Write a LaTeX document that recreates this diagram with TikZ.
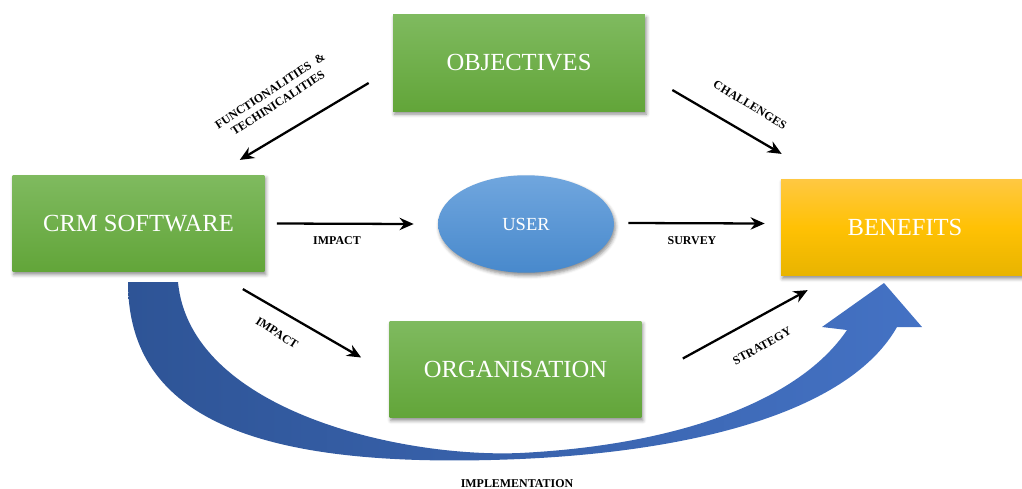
\documentclass[tikz,border=0pt]{standalone}
\usepackage{fontspec}
\setmainfont{Liberation Serif}
\usetikzlibrary{positioning}
\usetikzlibrary{shapes.geometric}
\usetikzlibrary{arrows.meta}
\usetikzlibrary{shadows.blur}

\definecolor{greentop}{RGB}{127,186,95}
\definecolor{greenbot}{RGB}{98,165,57}
\definecolor{goldtop}{RGB}{255,200,66}
\definecolor{goldmid}{RGB}{255,193,4}
\definecolor{goldbot}{RGB}{232,180,0}
\definecolor{usertop}{RGB}{112,166,222}
\definecolor{userbot}{RGB}{72,137,204}
\definecolor{impldark}{RGB}{46,84,150}
\definecolor{impllight}{RGB}{68,114,196}

\tikzset{
	block/.style={rectangle, minimum width=5.04cm, minimum height=1.93cm,
		top color=greentop, bottom color=greenbot, text=white,
		font=\fontsize{14}{16}\selectfont,
		blur shadow={shadow xshift=0.8pt, shadow yshift=-1.6pt, shadow blur radius=2pt, shadow opacity=45}},
	conn/.style={line width=1.3pt, -{Stealth[length=8pt,width=7pt]}},
	lbl/.style={font=\fontsize{6.8}{8.2}\selectfont\bfseries, inner sep=1pt, align=center},
}

\begin{document}
\begin{tikzpicture}[x=0.02cm,y=-0.02cm]%pixel grid, y runs down
	\useasboundingbox (0,0) rectangle (1022,488);

	\node[block] (obj) at (519,63) {OBJECTIVES};
	\node[block] (crm) at (138.5,223.5) {CRM SOFTWARE};
	\node[block, minimum width=4.96cm, top color=goldtop, bottom color=goldbot, middle color=goldmid] (ben) at (905,227.5) {BENEFITS};
	\node[block, ellipse, inner sep=0pt, minimum width=3.52cm, minimum height=1.95cm,
		top color=usertop, bottom color=userbot, font=\fontsize{10.5}{12}\selectfont] (user) at (526,224) {USER};
	\node[block] (org) at (515.5,369.5) {ORGANISATION};

	% implementation arrow, crm -> benefits
	\shade[left color=impldark, right color=impllight]
		(128,282) .. controls (128,420) and (260,470) .. (520,459)
		.. controls (700,451) and (850,410) .. (897,327)
		-- (922,327) -- (884,283) -- (822,327) -- (847,330)
		.. controls (800,400) and (680,445) .. (520,453)
		.. controls (400,458) and (190,410) .. (178,282) -- cycle;

	\draw[conn] ([shift={(-24,20)}]obj.west) -- ([shift={(-25,-15)}]crm.north east);
	\draw[conn] ([shift={(27,27)}]obj.east) -- ([shift={(1,-25)}]ben.north west);
	\draw[conn] ([shift={(12,0)}]crm.east) -- ([shift={(-24,0)}]user.west);
	\draw[conn] ([shift={(14,-1)}]user.east) -- ([shift={(-16,-4)}]ben.west);
	\draw[conn] ([shift={(-22,17)}]crm.south east) -- ([shift={(-28,-12)}]org.west);
	\draw[conn] ([shift={(41,-11)}]org.east) -- ([shift={(27,14)}]ben.south west);

	\node[lbl, rotate=33] (funlbl) at (274,97) {FUNCTIONALITIES\ \ \&\\TECHINICALITIES};
	\node[lbl, rotate=-31] (challbl) at (750,105) {CHALLENGES};
	\node[lbl] (impactlbl) at (337,241) {IMPACT};
	\node[lbl] (surveylbl) at (692,241) {SURVEY};
	\node[lbl, rotate=-33] (orglbl) at (277,333) {IMPACT};
	\node[lbl, rotate=29] (stratlbl) at (762,346) {STRATEGY};
	\node[lbl] (impllbl) at (517,484) {IMPLEMENTATION};
\end{tikzpicture}
\end{document}
